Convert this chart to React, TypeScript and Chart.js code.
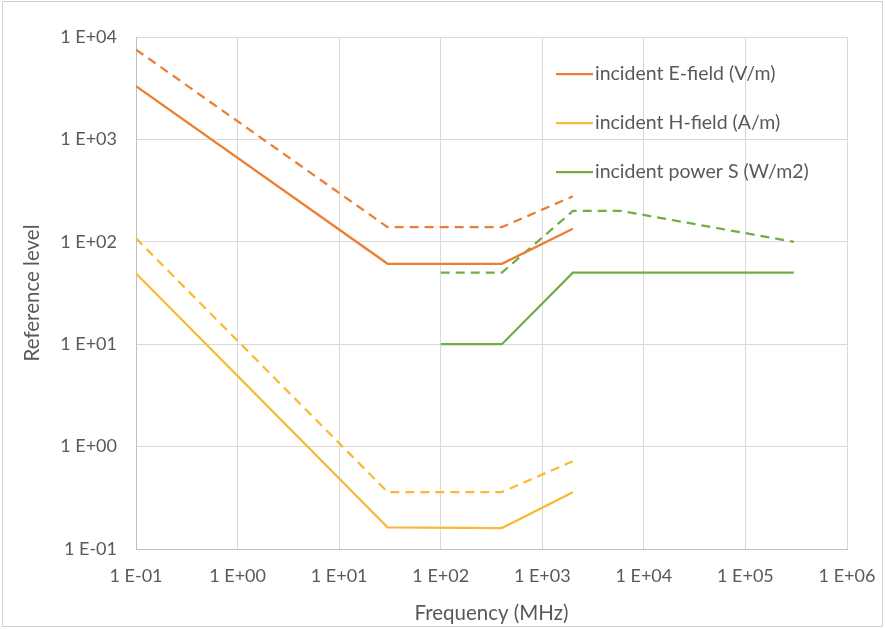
import React, { useEffect, useRef } from "react";
import { Chart, registerables } from "chart.js";

Chart.register(...registerables);

// Frequency breakpoints (MHz)
const eFreq = [0.1, 30, 400, 2000];
const eSolid = [3308, 61, 61, 134];
const eDashed = [7540, 139, 139, 278];

const hFreq = [0.1, 30, 400, 2000];
const hSolid = [49, 0.163, 0.16, 0.358];
const hDashed = [108, 0.36, 0.36, 0.72];

const sSolidFreq = [100, 400, 2000, 300000];
const sSolid = [10, 10, 50, 50];
const sDashedFreq = [100, 400, 2000, 6000, 300000];
const sDashed = [50, 50, 200, 200, 100];

const xTicks = [0.1, 1, 10, 100, 1000, 10000, 100000, 1000000];
const yTicks = [0.1, 1, 10, 100, 1000, 10000];

const legendLabels = [
  "incident E-field (V/m)",
  "incident H-field (A/m)",
  "incident power S (W/m2)",
];

const ORANGE = "#ED7D31";
const YELLOW = "#F9B934";
const GREEN = "#70AD47";
const legendColors = [ORANGE, YELLOW, GREEN];

const FONT = "Lato, 'Open Sans', sans-serif";
const TEXT = "#595959";

const zip = (xs: number[], ys: number[]) => xs.map((x, i) => ({ x, y: ys[i] }));

const fmt = (v: number) => {
  const e = Math.round(Math.log10(v));
  const a = Math.abs(e);
  return "1 E" + (e >= 0 ? "+" : "-") + (a < 10 ? "0" + a : String(a));
};

const legendPlugin = {
  id: "insideLegend",
  afterDraw(chart: any) {
    const ctx = chart.ctx;
    ctx.save();
    ctx.font = "19.5px " + FONT;
    ctx.fillStyle = TEXT;
    ctx.textBaseline = "middle";
    legendLabels.forEach((label, i) => {
      const y = 74 + i * 49;
      ctx.strokeStyle = legendColors[i];
      ctx.lineWidth = 2.25;
      ctx.beginPath();
      ctx.moveTo(556, y);
      ctx.lineTo(593, y);
      ctx.stroke();
      ctx.fillText(label, 595, y);
    });
    ctx.restore();
  },
};

const borderPlugin = {
  id: "outerBorder",
  afterDraw(chart: any) {
    const ctx = chart.ctx;
    ctx.save();
    ctx.strokeStyle = "#d0d0d0";
    ctx.lineWidth = 1;
    ctx.strokeRect(2.5, 1.5, 880, 625);
    ctx.restore();
  },
};

export default function App() {
  const ref = useRef<HTMLCanvasElement | null>(null);

  useEffect(() => {
    if (!ref.current) return;
    const base = { pointRadius: 0, borderWidth: 2.25, fill: false, tension: 0 };
    const chart = new Chart(ref.current, {
      type: "line",
      data: {
        datasets: [
          { ...base, label: "E solid", data: zip(eFreq, eSolid), borderColor: ORANGE },
          { ...base, label: "E dashed", data: zip(eFreq, eDashed), borderColor: ORANGE, borderDash: [9, 6] },
          { ...base, label: "H solid", data: zip(hFreq, hSolid), borderColor: YELLOW },
          { ...base, label: "H dashed", data: zip(hFreq, hDashed), borderColor: YELLOW, borderDash: [9, 6] },
          { ...base, label: "S solid", data: zip(sSolidFreq, sSolid), borderColor: GREEN },
          { ...base, label: "S dashed", data: zip(sDashedFreq, sDashed), borderColor: GREEN, borderDash: [9, 6] },
        ] as any,
      },
      options: {
        animation: false,
        responsive: false,
        maintainAspectRatio: false,
        layout: { padding: { left: 0, top: 37, right: 38, bottom: 0 } },
        plugins: {
          legend: { display: false },
          tooltip: { enabled: false },
        },
        scales: {
          x: {
            type: "logarithmic",
            min: 0.1,
            max: 1000000,
            afterBuildTicks: (s: any) => {
              s.ticks = xTicks.map((v) => ({ value: v }));
            },
            afterFit: (s: any) => {
              s.height = 80;
              s.paddingLeft = 0;
              s.paddingRight = 0;
            },
            grid: { color: "#d9d9d9", drawTicks: false, lineWidth: 1 },
            border: { color: "#bfbfbf", width: 1 },
            ticks: {
              autoSkip: false,
              maxRotation: 0,
              padding: 16,
              color: TEXT,
              font: { family: FONT, size: 18 },
              callback: (v: any) => fmt(Number(v)),
            },
            title: {
              display: true,
              text: "Frequency (MHz)",
              color: TEXT,
              font: { family: FONT, size: 20.5 },
              padding: { top: 0, bottom: 3 },
            },
          },
          y: {
            type: "logarithmic",
            min: 0.1,
            max: 10000,
            afterBuildTicks: (s: any) => {
              s.ticks = yTicks.map((v) => ({ value: v }));
            },
            afterFit: (s: any) => {
              s.width = 136;
              s.paddingTop = 0;
              s.paddingBottom = 0;
            },
            grid: { color: "#d9d9d9", drawTicks: false, lineWidth: 1 },
            border: { color: "#bfbfbf", width: 1 },
            ticks: {
              autoSkip: false,
              padding: 19,
              color: TEXT,
              font: { family: FONT, size: 18 },
              callback: (v: any) => fmt(Number(v)),
            },
            title: {
              display: true,
              text: "Reference level",
              color: TEXT,
              font: { family: FONT, size: 20.5 },
              padding: { top: 20, bottom: 0 },
            },
          },
        },
      } as any,
      plugins: [legendPlugin, borderPlugin],
    });
    return () => chart.destroy();
  }, []);

  return (
    <div style={{ position: "absolute", left: 0, top: 0, width: 885, height: 629, background: "#fff" }}>
      <canvas ref={ref} width={885} height={629} style={{ width: 885, height: 629 }} />
    </div>
  );
}
